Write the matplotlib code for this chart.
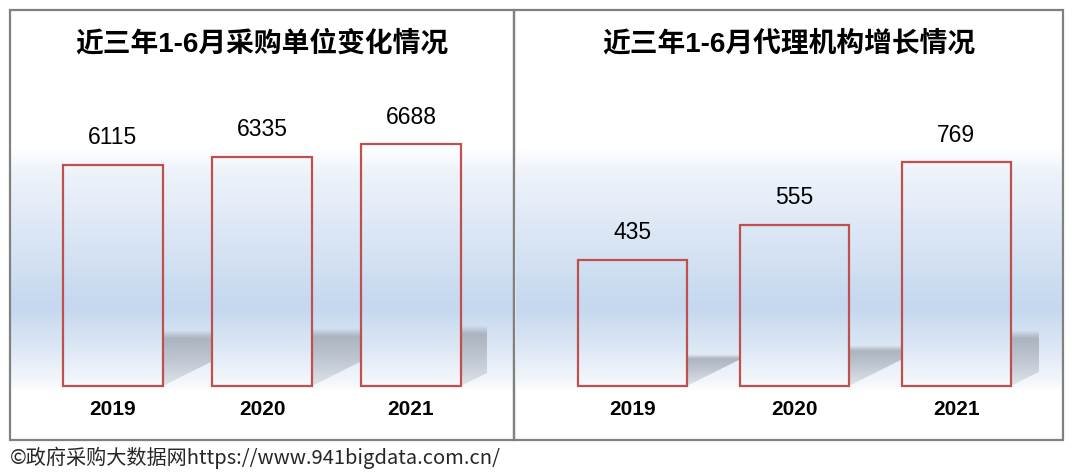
import numpy as np
import matplotlib
matplotlib.use("Agg")
from matplotlib import pyplot as plt
from matplotlib.patches import Rectangle, Polygon
from matplotlib.colors import to_rgb

W, H = 1073, 474

# data
years = ["2019", "2020", "2021"]
buyers = [6115, 6335, 6688]
agencies = [435, 555, 769]
titles = ["近三年1-6月采购单位变化情况", "近三年1-6月代理机构增长情况"]
footer = "©政府采购大数据网https://www.941bigdata.com.cn/"

NUM_FONT = ["Liberation Sans", "Noto Sans CJK SC"]
EDGE = "#c0504d"
FRAME = "#808080"
SHADOW = to_rgb("#a7afba")


def px(x0, y0, x1, y1):
    # pixel box measured from the top-left -> figure fraction rect
    return [x0 / W, 1 - y1 / H, (x1 - x0) / W, (y1 - y0) / H]


# vertical background gradient, rows from panel top (11px) to bottom (438px)
rows = np.arange(11, 439)
stops_y = [11, 147, 172, 307, 345, 384, 392]
stops_c = ["#ffffff", "#ffffff", "#eef3fa", "#c5d8ef", "#dbe6f4", "#f5f8fc", "#ffffff"]
cols = np.array([to_rgb(c) for c in stops_c])
grad = np.stack([np.interp(rows, stops_y, cols[:, k]) for k in range(3)], axis=-1)[:, None, :]

# shadow alpha: dark near the top edge, soft at the very top, lighter at the floor
t = np.linspace(1, 0, 80)
alpha = np.where(t > 0.86, (1 - t) / 0.14, 0.3 + 0.7 * t / 0.86) * 0.9
shadow_img = np.zeros((80, 1, 4))
shadow_img[..., :3] = SHADOW
shadow_img[:, 0, 3] = alpha

fig = plt.figure(figsize=(W / 100, H / 100), dpi=100)

panels = [
    dict(frame=(10, 10, 514, 440), inner=(11, 11, 513, 438), plot=(37, 60, 487, 390),
         ylim=(-110.6, 9017), values=buyers, title=titles[0]),
    dict(frame=(514, 10, 1063, 440), inner=(516, 11, 1062, 438), plot=(550, 60, 1039, 390),
         ylim=(-13.8, 1121.4), values=agencies, title=titles[1]),
]

x = np.arange(len(years))
for p in panels:
    bg = fig.add_axes(px(*p["inner"]), zorder=0)
    bg.imshow(grad, extent=(0, 1, 0, 1), aspect="auto", interpolation="bilinear")
    bg.set_xlim(0, 1)
    bg.set_ylim(0, 1)
    bg.axis("off")

    ax = fig.add_axes(px(*p["plot"]), zorder=1)
    ax.set_xlim(-0.51, 2.51)
    ax.set_ylim(*p["ylim"])
    ax.axis("off")

    bars = ax.bar(x, p["values"], width=0.67, facecolor="none", edgecolor=EDGE,
                  linewidth=1.6, zorder=3, clip_on=False)
    inv = ax.transData.inverted()
    for xi, v, bar in zip(x, p["values"], bars):
        # perspective floor shadow, cast up and to the right
        bl = ax.transData.transform((bar.get_x(), 0))
        br = ax.transData.transform((bar.get_x() + bar.get_width(), 0))
        h = ax.transData.transform((xi, v))[1] - bl[1]
        off = np.array([0.5 * h, 0.25 * h])
        pts = inv.transform(np.array([bl, br, br + off, bl + [0, off[1]]]))
        poly = Polygon(pts, closed=True, transform=ax.transData)
        sh = ax.imshow(shadow_img, extent=(pts[:, 0].min(), pts[:, 0].max(), 0, pts[:, 1].max()),
                       aspect="auto", interpolation="bilinear", zorder=1)
        sh.set_clip_path(poly)

        # bar body shows the same gradient as the background
        fill = ax.imshow(grad, extent=(0, 1, 0, 1), transform=bg.transAxes,
                         aspect="auto", interpolation="bilinear", zorder=2)
        fill.set_clip_path(bar)

        ax.annotate(f"{v}", (xi, v), xytext=(0, 14.8), textcoords="offset points",
                    ha="center", va="baseline", fontsize=16.5, family=NUM_FONT)
        ax.annotate(years[xi], (xi, 0), xytext=(0, -20.9), textcoords="offset points",
                    ha="center", va="baseline", fontsize=15, fontweight="bold",
                    family=NUM_FONT)

    x0, y0, x1, y1 = p["frame"]
    fig.add_artist(Rectangle((x0 / W, 1 - y1 / H), (x1 - x0) / W, (y1 - y0) / H,
                             transform=fig.transFigure, fill=False, edgecolor=FRAME,
                             linewidth=1.6, zorder=5))
    fig.text((x0 + x1) / 2 / W, 1 - 44 / H, p["title"], ha="center", va="center",
             fontsize=20, fontweight="bold", family=NUM_FONT)

fig.text(10 / W, 1 - 458 / H, footer, ha="left", va="center", fontsize=14.5,
         color="#262626", family=["Noto Sans CJK SC", "DejaVu Sans"])

fig.savefig("out.png", dpi=100)
